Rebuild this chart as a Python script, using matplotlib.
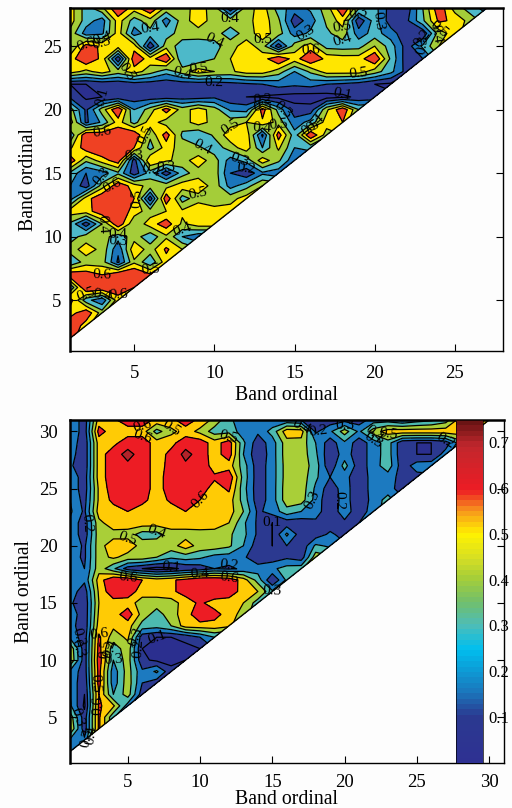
import numpy as np
import matplotlib
matplotlib.use("Agg")
import matplotlib.pyplot as plt
from matplotlib.colors import LinearSegmentedColormap, Normalize
from matplotlib.cm import ScalarMappable

plt.rcParams['font.family'] = ['Liberation Serif', 'DejaVu Serif']

# Correlation values x100; each row runs from band 1 up to the diagonal, rows from top to bottom.
top_rows = [
 [55,35,48,70,55,70,47,45,55,45,12,45,55,35,25,32,45,70,42,34,15,14,40,68,45,35,25],
 [55,35,25,55,35,46,25,45,56,45,46,46,56,42,14,25,42,55,12,35,14,18,38,62,58,45],
 [47,25,28,55,25,36,35,45,45,45,34,45,55,45,25,32,38,45,25,34,25,12,12,45,55],
 [38,65,58,55,55,12,46,35,34,36,46,55,45,14,45,55,36,35,36,50,35,15,32,50],
 [55,70,57,12,68,55,70,30,33,40,50,57,55,70,55,70,57,55,55,70,38,14,20],
 [55,47,55,45,55,45,34,45,55,50,48,55,55,45,30,42,55,55,55,45,33,16],
 [10,10,12,12,15,14,13,14,14,14,16,18,20,24,22,24,20,18,15,10,8],
 [18,8,10,12,14,14,14,15,15,18,12,10,9,7,6,5,6,8,12,14],
 [45,18,45,70,30,45,65,45,55,45,28,26,65,36,14,14,48,68,40],
 [56,18,32,55,36,55,45,45,55,46,46,50,58,46,24,34,55,60],
 [30,70,68,68,70,42,65,38,30,42,56,56,18,65,34,70,45],
 [48,66,72,72,60,36,55,45,42,34,45,56,30,52,30,32],
 [68,42,55,66,15,60,52,46,55,45,25,34,56,42,22],
 [38,20,25,38,14,35,14,35,46,46,20,12,28,24],
 [30,14,45,68,55,46,46,56,56,46,26,36,50],
 [25,55,70,72,60,14,68,35,46,42,46,55],
 [55,55,68,70,55,45,50,52,58,55,55],
 [38,14,40,68,42,55,66,48,56,56],
 [35,45,45,34,45,33,48,30,22],
 [45,55,47,22,58,45,62,50],
 [30,45,45,18,48,32,56],
 [68,66,60,70,72,62],
 [30,72,70,66,60],
 [65,34,22,56],
 [55,68,45],
 [70,55],
 [65],
]
bottom_rows = [
 [30,14,55,58,66,66,57,57,66,57,47,32,25,22,22,22,20,14,14,16,14,25,25,20,25,28,35,55,55,50],
 [30,14,64,55,55,55,36,47,55,47,35,36,25,22,34,56,55,18,28,45,28,45,55,56,56,56,56,56,56],
 [28,12,55,57,66,66,55,57,66,66,55,66,32,14,25,46,46,30,14,28,14,25,35,12,10,10,14,35],
 [25,12,55,66,73,66,55,63,73,66,55,66,30,12,25,46,46,32,12,25,14,25,35,12,10,10,25],
 [22,12,55,66,68,66,55,64,68,68,55,55,35,14,25,45,46,35,12,34,14,25,36,14,25,26],
 [28,14,55,66,68,66,55,66,68,66,62,68,36,14,25,45,46,32,20,24,12,25,25,16,16],
 [28,14,52,66,68,66,55,66,68,66,55,62,34,14,25,46,46,28,14,25,12,25,25,14],
 [30,16,52,63,66,63,55,62,66,60,55,55,36,14,25,46,45,26,12,25,12,24,34],
 [32,18,55,55,60,55,55,55,60,55,55,55,40,18,24,36,30,24,14,25,14,25],
 [28,14,47,56,55,56,55,55,55,56,55,50,32,18,10,14,14,18,14,18,20],
 [28,14,46,46,46,35,36,46,46,46,46,42,33,18,10,32,14,14,22,16],
 [28,18,46,56,56,46,46,46,55,46,46,42,30,14,10,20,12,32,28],
 [25,18,46,52,46,46,40,32,35,32,26,25,22,12,14,18,14,46],
 [30,20,46,32,15,10,6,8,12,14,20,18,22,25,28,34,36],
 [28,22,55,70,70,60,55,58,64,70,70,68,55,36,10,32],
 [26,14,52,68,66,55,55,58,64,70,70,66,56,50,32],
 [22,12,50,55,55,45,45,45,55,62,55,55,50,35],
 [28,12,52,55,66,46,35,46,55,68,64,55,46],
 [25,12,55,52,55,36,34,40,55,56,56,52],
 [28,14,62,45,52,14,10,10,12,20,30],
 [48,14,64,34,46,10,7,7,8,10],
 [50,14,66,30,45,12,8,8,10],
 [28,14,64,24,45,22,32,12],
 [28,12,64,24,46,20,14],
 [30,10,60,30,45,14],
 [32,8,62,52,25],
 [46,14,62,32],
 [50,14,62],
 [28,22],
 [25],
]
top_levels = [0, .1, .2, .3, .4, .5, .6, .9]
bottom_levels = [0, .1, .2, .3, .4, .5, .6, .7, .9]
top_colors = ['#2b2f8f', '#2b3990', '#1b75bb', '#4db9c9', '#a4cd39', '#ffe600', '#ef4123']
bottom_colors = ['#2b2f8f', '#2b3990', '#1c7ac0', '#4dbab0', '#a9cf38', '#ffcb05', '#ed1c24', '#b2232a']
cbar_stops = [(0.0, '#2e3192'), (0.13, '#2b3990'), (0.2, '#1b75bb'), (0.33, '#00bfef'),
              (0.40, '#4dbdb8'), (0.47, '#72bf6a'), (0.54, '#a6ce39'), (0.60, '#d7df23'),
              (0.67, '#fff200'), (0.74, '#f7941d'), (0.80, '#ed1c24'), (0.93, '#c1272d'),
              (1.0, '#6b1414')]
cbar_ticks = [.1, .2, .3, .4, .5, .6, .7]
cbar_range = (0, 0.748)


def grid(rows):
    n = len(rows) + 1
    z = np.full((n, n), np.nan)
    for row, y in zip(rows, range(n, 1, -1)):
        z[y - 1, :len(row)] = np.array(row) / 100
    return np.arange(1, n + 1), np.ma.masked_invalid(z)


W, H = 512, 808
fig = plt.figure(figsize=(W / 100, H / 100), dpi=100, facecolor='#fdfdfd')


def axes_px(l, t, r, b):
    return fig.add_axes([l / W, 1 - b / H, (r - l) / W, (b - t) / H])


def panel(ax, rows, levels, colors, lim, ticks, xlab_pad, ylab_pad, xtick_pad, ytick_pad):
    b, z = grid(rows)
    ax.contourf(b, b, z, levels=levels, colors=colors)
    cs = ax.contour(b, b, z, levels=levels[1:-1], colors='k', linewidths=0.9)
    ax.clabel(cs, inline=False, fontsize=11, fmt='%.1f', colors='k')
    ax.plot(b[:-1], b[1:], color='k', lw=1.0)
    ax.set_xlim(*lim)
    ax.set_ylim(*lim)
    ax.set_xticks(ticks)
    ax.set_yticks(ticks)
    ax.tick_params(direction='in', length=5, width=0.8, top=False, right=True, labelsize=13.5)
    ax.tick_params(axis='x', pad=xtick_pad)
    ax.tick_params(axis='y', pad=ytick_pad)
    ax.set_xlabel('Band ordinal', fontsize=14.2, labelpad=xlab_pad)
    ax.set_ylabel('Band ordinal', fontsize=14.2, labelpad=ylab_pad)
    for s in ax.spines.values():
        s.set_linewidth(1.0)
    ax.spines['left'].set_linewidth(1.8)
    ax.spines['top'].set_linewidth(1.8)
    ax.set_facecolor('#fdfdfd')


ax1 = axes_px(70, 8, 503, 351)
panel(ax1, top_rows, top_levels, top_colors, (1, 28), [5, 10, 15, 20, 25], 3, 3.5, 10, 6)
ax2 = axes_px(70, 420, 503.5, 763)
panel(ax2, bottom_rows, bottom_levels, bottom_colors, (1, 31), [5, 10, 15, 20, 25, 30], -0.5, 3.5, 8, 9)

cax = axes_px(456, 420, 483, 763)
cax.set_zorder(5)
cmap = LinearSegmentedColormap.from_list('bands', cbar_stops, N=64)
cb = fig.colorbar(ScalarMappable(Normalize(*cbar_range), cmap), cax=cax, ticks=cbar_ticks)
cb.ax.tick_params(direction='in', length=0, labelsize=12, pad=4)
cb.ax.set_yticklabels([f'{t:.1f}' for t in cbar_ticks])
cb.outline.set_linewidth(0.5)

fig.savefig('out.png', dpi=100, facecolor=fig.get_facecolor())
